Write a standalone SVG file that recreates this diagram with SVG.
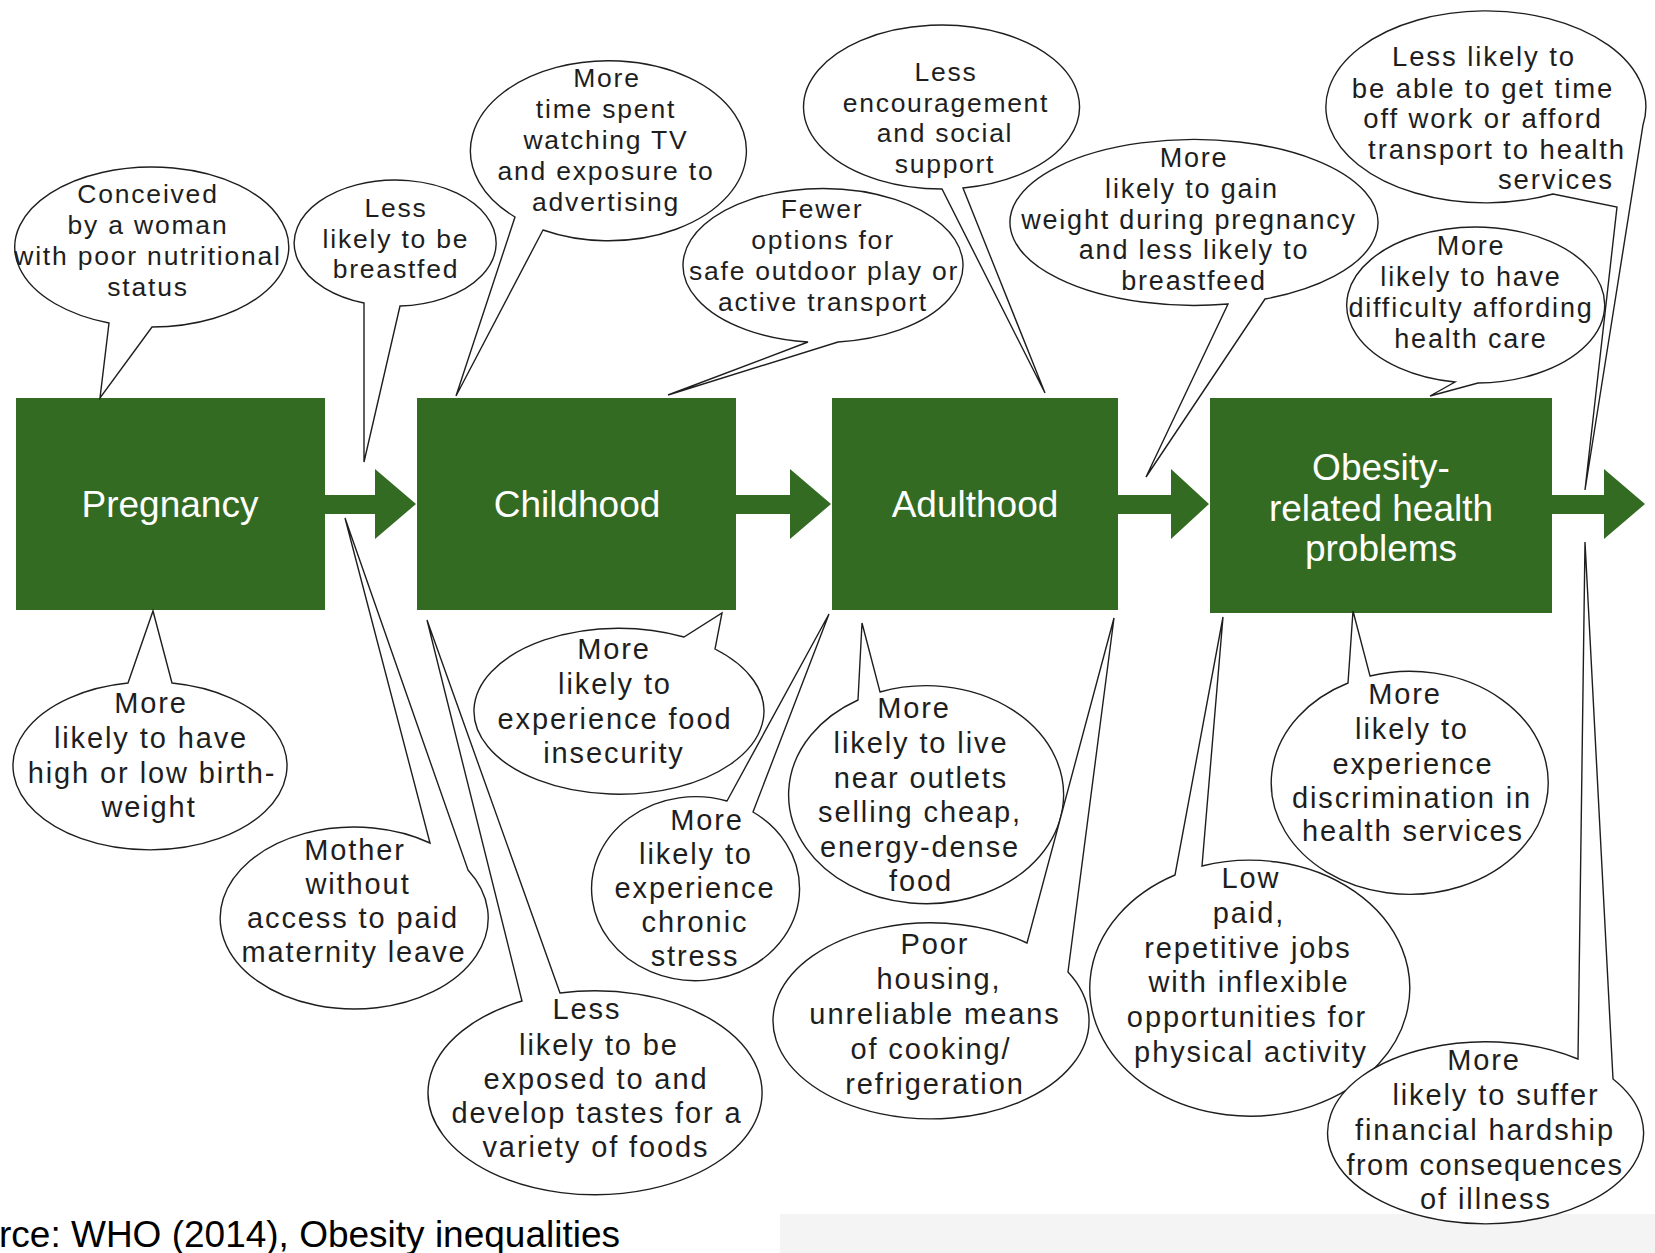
<svg xmlns="http://www.w3.org/2000/svg" width="1655" height="1253" viewBox="0 0 1655 1253">
<style>
.box{fill:#346b22}
.bt{font-family:"Liberation Sans",Arial,sans-serif;font-size:37px;fill:#ffffff;text-anchor:middle}
.bub{fill:#ffffff;stroke:#1e1e1e;stroke-width:1.4;stroke-linejoin:miter}
.u{font-family:"Liberation Sans",Arial,sans-serif;font-size:26.5px;letter-spacing:1.8px;fill:#1e1e1e;text-anchor:middle}
.l{font-family:"Liberation Sans",Arial,sans-serif;font-size:29px;letter-spacing:1.9px;fill:#1e1e1e;text-anchor:middle}
.arr{fill:#346b22}
</style>
<rect x="0" y="0" width="1655" height="1253" fill="#ffffff"/>
<rect x="780" y="1214" width="875" height="39" fill="#f4f4f4"/>

<g id="connectors">
<polygon class="arr" points="325,495 375,495 375,469 416,504 375,539 375,514 325,514"/>
<polygon class="arr" points="736,495 790,495 790,469 831,504 790,539 790,514 736,514"/>
<polygon class="arr" points="1118,495 1171,495 1171,469 1209,504 1171,539 1171,514 1118,514"/>
<polygon class="arr" points="1552,495 1604,495 1604,469 1645,504 1604,539 1604,514 1552,514"/>
</g>

<g id="pregnancy"><rect class="box" x="16" y="398" width="309" height="212"/><text class="bt" x="170" y="517">Pregnancy</text></g>
<g id="childhood"><rect class="box" x="417" y="398" width="319" height="212"/><text class="bt" x="577" y="517">Childhood</text></g>
<g id="adulthood"><rect class="box" x="832" y="398" width="286" height="212"/><text class="bt" x="975" y="517">Adulthood</text></g>
<g id="obesity"><rect class="box" x="1210" y="398" width="342" height="215"/><text class="bt" x="1381" y="480">Obesity-</text><text class="bt" x="1381" y="521">related health</text><text class="bt" x="1381" y="561">problems</text></g>

<g id="b-conceived"><path class="bub" d="M109 323 A137 80 0 1 1 152 327 L100 398 Z"/>
<text class="u"><tspan x="148" y="203">Conceived</tspan><tspan x="148" y="234">by a woman</tspan><tspan x="148" y="265">with poor nutritional</tspan><tspan x="148" y="296">status</tspan></text></g>

<g id="b-breastfed"><path class="bub" d="M364 303 A101 63 0 1 1 400 306 L364 462 Z"/>
<text class="u"><tspan x="396" y="217">Less</tspan><tspan x="396" y="248">likely to be</tspan><tspan x="396" y="278">breastfed</tspan></text></g>

<g id="b-tv"><path class="bub" d="M515 217 A138 90 0 1 1 543 230 L456 396 Z"/>
<text class="u"><tspan x="607" y="87">More</tspan><tspan x="606" y="118">time spent</tspan><tspan x="606" y="149">watching TV</tspan><tspan x="606" y="180">and exposure to</tspan><tspan x="606" y="211">advertising</tspan></text></g>

<g id="b-fewer"><path class="bub" d="M808 342 A140 77 0 1 1 838 342 L668 395 Z"/>
<text class="u"><tspan x="822" y="218">Fewer</tspan><tspan x="823" y="249">options for</tspan><tspan x="824" y="280">safe outdoor play or</tspan><tspan x="823" y="311">active transport</tspan></text></g>

<g id="b-encouragement"><path class="bub" d="M942 189 A138 82 0 1 1 963 188 L1045 393 Z"/>
<text class="u" style="font-size:26.5px;letter-spacing:1.7px"><tspan x="946" y="81">Less</tspan><tspan x="946" y="112">encouragement</tspan><tspan x="945" y="142">and social</tspan><tspan x="945" y="173">support</tspan></text></g>

<g id="b-weight"><path class="bub" d="M1228 304 A184 83 0 1 1 1265 299 L1146 477 Z"/>
<text class="u" style="font-size:27px;letter-spacing:1.8px"><tspan x="1194" y="167">More</tspan><tspan x="1192" y="198">likely to gain</tspan><tspan x="1189" y="229">weight during pregnancy</tspan><tspan x="1194" y="259">and less likely to</tspan><tspan x="1194" y="290">breastfeed</tspan></text></g>

<g id="b-timeoff"><path class="bub" d="M1553 194 A160 96 0 1 1 1643 125 L1585 490 L1617 207 Z"/>
<text class="u" style="font-size:27.5px;letter-spacing:1.9px"><tspan x="1484" y="66">Less likely to</tspan><tspan x="1483" y="98">be able to get time</tspan><tspan x="1483" y="128">off work or afford</tspan><tspan x="1497" y="159">transport to health</tspan><tspan x="1556" y="189">services</tspan></text></g>

<g id="b-afford"><path class="bub" d="M1455 382 A129 78 0 1 1 1478 383 L1430 396 Z"/>
<text class="u" style="font-size:27px;letter-spacing:1.8px"><tspan x="1471" y="255">More</tspan><tspan x="1471" y="286">likely to have</tspan><tspan x="1471" y="317">difficulty affording</tspan><tspan x="1471" y="348">health care</tspan></text></g>

<g id="b-birthweight"><path class="bub" d="M172 683 A137 84 0 1 1 128 683 L153 611 Z"/>
<text class="l"><tspan x="151" y="713">More</tspan><tspan x="151" y="748">likely to have</tspan><tspan x="152" y="783">high or low birth-</tspan><tspan x="149" y="817">weight</tspan></text></g>

<g id="b-mother"><path class="bub" d="M468 870 A134 91 0 1 1 430 843 L345 518 Z"/>
<text class="l"><tspan x="355" y="860">Mother</tspan><tspan x="358" y="894">without</tspan><tspan x="353" y="928">access to paid</tspan><tspan x="354" y="962">maternity leave</tspan></text></g>

<g id="b-tastes"><path class="bub" d="M560 993 A167 102 0 1 1 522 1001 L427 620 Z"/>
<text class="l"><tspan x="587" y="1019">Less</tspan><tspan x="599" y="1055">likely to be</tspan><tspan x="596" y="1089">exposed to and</tspan><tspan x="597" y="1123">develop tastes for a</tspan><tspan x="596" y="1157">variety of foods</tspan></text></g>

<g id="b-food"><path class="bub" d="M715 649 A145 83 0 1 1 684 637 L722 613 Z"/>
<text class="l"><tspan x="614" y="659">More</tspan><tspan x="615" y="694">likely to</tspan><tspan x="615" y="729">experience food</tspan><tspan x="614" y="763">insecurity</tspan></text></g>

<g id="b-stress"><path class="bub" d="M753 812 A104 92 0 1 1 727 801 L829 614 Z"/>
<text class="l"><tspan x="707" y="830">More</tspan><tspan x="696" y="864">likely to</tspan><tspan x="695" y="898">experience</tspan><tspan x="695" y="932">chronic</tspan><tspan x="695" y="966">stress</tspan></text></g>

<g id="b-outlets"><path class="bub" d="M880 692 A137.5 109 0 1 1 858 700 L862 623 Z"/>
<text class="l"><tspan x="914" y="718">More</tspan><tspan x="921" y="753">likely to live</tspan><tspan x="921" y="788">near outlets</tspan><tspan x="920" y="822">selling cheap,</tspan><tspan x="920" y="857">energy-dense</tspan><tspan x="921" y="891">food</tspan></text></g>

<g id="b-housing"><path class="bub" d="M1068 972 A158 98 0 1 1 1027 943 L1114 618 Z"/>
<text class="l"><tspan x="935" y="954">Poor</tspan><tspan x="939" y="989">housing,</tspan><tspan x="935" y="1024">unreliable means</tspan><tspan x="931" y="1059">of cooking/</tspan><tspan x="935" y="1094">refrigeration</tspan></text></g>

<g id="b-jobs"><path class="bub" d="M1202 866 A160 128 0 1 1 1175 875 L1223 617 Z"/>
<text class="l"><tspan x="1251" y="888">Low</tspan><tspan x="1249" y="923">paid,</tspan><tspan x="1248" y="958">repetitive jobs</tspan><tspan x="1249" y="992">with inflexible</tspan><tspan x="1247" y="1027">opportunities for</tspan><tspan x="1251" y="1062">physical activity</tspan></text></g>

<g id="b-discrimination"><path class="bub" d="M1370 676 A138.5 111.5 0 1 1 1348 683 L1353 611 Z"/>
<text class="l"><tspan x="1405" y="704">More</tspan><tspan x="1412" y="739">likely to</tspan><tspan x="1413" y="774">experience</tspan><tspan x="1412" y="808">discrimination in</tspan><tspan x="1413" y="841">health services</tspan></text></g>

<g id="b-hardship"><path class="bub" d="M1613 1079 A158 91 0 1 1 1578 1059 L1585 542 Z"/>
<text class="l"><tspan x="1484" y="1070">More</tspan><tspan x="1496" y="1105">likely to suffer</tspan><tspan x="1485" y="1140">financial hardship</tspan><tspan x="1485" y="1175" style="letter-spacing:1.4px">from consequences</tspan><tspan x="1486" y="1209">of illness</tspan></text></g>

<text x="-1" y="1247" style="font-family:'Liberation Sans',Arial,sans-serif;font-size:37px;fill:#000000">rce: WHO (2014), Obesity inequalities</text>
</svg>
